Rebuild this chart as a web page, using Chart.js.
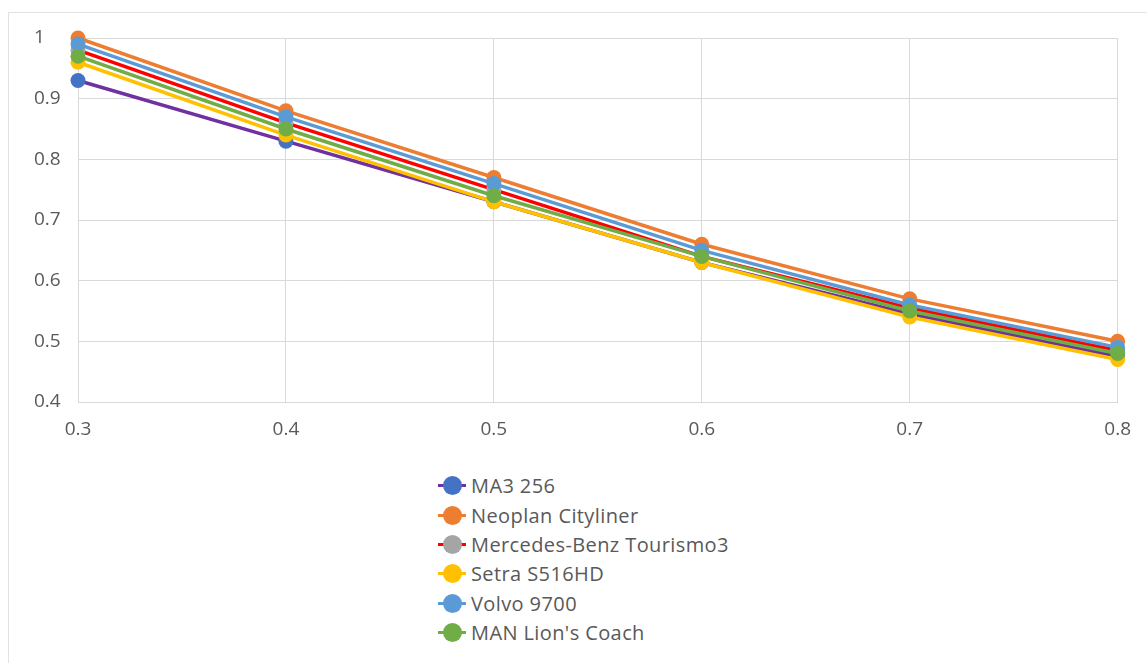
<!DOCTYPE html>
<html>
<head>
<meta charset="utf-8">
<script src="https://cdn.jsdelivr.net/npm/chart.js@4.4.1/dist/chart.umd.min.js"></script>
<style>
    body { margin: 0; background: #fff; width: 1147px; height: 663px; overflow: hidden; position: relative; font-family: 'Open Sans', sans-serif; }
    #frame { position: absolute; left: 8px; top: 12px; width: 1300px; height: 800px; border-left: 1px solid #e2e2e2; border-top: 1px solid #e2e2e2; }
    #wrap { position: absolute; left: 0; top: 0; width: 1147px; height: 460px; }
    #legend { position: absolute; left: 437px; top: 471px; }
    .row { height: 29.4px; display: flex; align-items: center; color: #595959; font-size: 20px; letter-spacing: 0.4px; white-space: nowrap; }
    .mk { position: relative; width: 30px; height: 20px; margin-right: 4px; }
    .mk .ln { position: absolute; left: 1px; right: 1px; top: 8.5px; height: 3px; }
    .mk .dot { position: absolute; left: 5.5px; top: 0.5px; width: 19px; height: 19px; border-radius: 50%; }
</style>
</head>
<body>
<div id="frame"></div>
<div id="wrap"><canvas id="chart"></canvas></div>
<div id="legend"></div>
<script>
// x values and tick values
const xValues = [0.3, 0.4, 0.5, 0.6, 0.7, 0.8];
const xTicks = [0.3, 0.4, 0.5, 0.6, 0.7, 0.8];
const yTicks = [0.4, 0.5, 0.6, 0.7, 0.8, 0.9, 1];

// series names
const names = ['MA3 256', 'Neoplan Cityliner', 'Mercedes-Benz Tourismo3', 'Setra S516HD', 'Volvo 9700', "MAN Lion's Coach"];

// series values
const ma3 = [0.93, 0.83, 0.73, 0.63, 0.545, 0.475];
const neoplan = [1.0, 0.88, 0.77, 0.66, 0.57, 0.50];
const mercedes = [0.98, 0.86, 0.75, 0.64, 0.555, 0.485];
const setra = [0.96, 0.84, 0.73, 0.63, 0.54, 0.47];
const volvo = [0.99, 0.87, 0.76, 0.65, 0.56, 0.49];
const man = [0.97, 0.85, 0.74, 0.64, 0.55, 0.48];

const lineColors = ['#7030A0', '#ED7D31', '#FF0000', '#FFC000', '#5B9BD5', '#70AD47'];
const pointColors = ['#4472C4', '#ED7D31', '#A5A5A5', '#FFC000', '#5B9BD5', '#70AD47'];

const series = [ma3, neoplan, mercedes, setra, volvo, man];

function makeDataset(vals, i) {
    return {
        label: names[i],
        data: vals.map((v, j) => ({ x: xValues[j], y: v })),
        showLine: true,
        clip: false,
        borderColor: lineColors[i],
        backgroundColor: pointColors[i],
        pointBackgroundColor: pointColors[i],
        pointBorderColor: pointColors[i],
        borderWidth: 3.5,
        pointRadius: 7.5,
        pointBorderWidth: 0,
        pointHoverRadius: 7.5,
        order: series.length - i // later series on top, like Excel
    };
}

const tickFont = { family: "'Open Sans', sans-serif", size: 19 };

const chart = new Chart(document.getElementById('chart'), {
    type: 'scatter',
    data: { datasets: series.map(makeDataset) },
    options: {
        responsive: true,
        maintainAspectRatio: false,
        animation: false,
        layout: { padding: { left: 34, right: 29, top: 38, bottom: 0 } },
        plugins: {
            legend: { display: false },
            tooltip: { enabled: false }
        },
        scales: {
            x: {
                type: 'linear',
                min: 0.3,
                max: 0.8,
                afterBuildTicks: s => { s.ticks = xTicks.map(v => ({ value: v })); },
                afterFit: s => { s.height = 58; },
                ticks: {
                    color: '#595959',
                    font: tickFont,
                    padding: 16,
                    callback: v => String(Math.round(v * 10) / 10)
                },
                grid: { color: '#d9d9d9', drawTicks: false },
                border: { color: '#d9d9d9' }
            },
            y: {
                min: 0.4,
                max: 1,
                afterBuildTicks: s => { s.ticks = yTicks.map(v => ({ value: v })); },
                afterFit: s => { s.width = 44; },
                ticks: {
                    color: '#595959',
                    font: tickFont,
                    crossAlign: 'far',
                    callback: v => String(Math.round(v * 10) / 10)
                },
                grid: { color: '#d9d9d9', drawTicks: false },
                border: { color: '#d9d9d9' }
            }
        }
    }
});

// vertical legend under the chart, in series order
const legend = document.getElementById('legend');
chart.data.datasets.forEach(ds => {
    const row = document.createElement('div');
    row.className = 'row';
    row.innerHTML = '<span class="mk"><span class="ln" style="background:' + ds.borderColor + '"></span>' +
        '<span class="dot" style="background:' + ds.pointBackgroundColor + '"></span></span>';
    row.appendChild(document.createTextNode(ds.label));
    legend.appendChild(row);
});
</script>
</body>
</html>
